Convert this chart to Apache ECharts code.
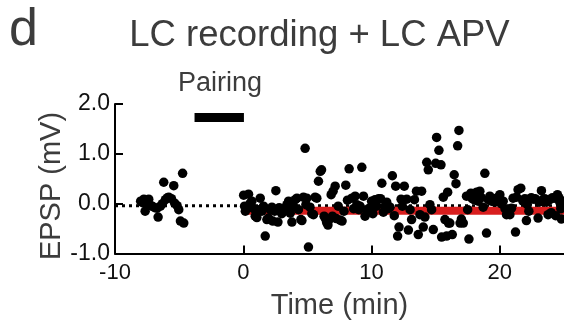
<!DOCTYPE html>
<html>
<head>
<meta charset="utf-8">
<script src="https://cdn.jsdelivr.net/npm/echarts@6/dist/echarts.min.js"></script>
<style>html,body{margin:0;padding:0;background:#fff;}#c{width:564px;height:324px;}</style>
</head>
<body>
<div id="c"></div>
<script>
// ---- data ----
const preTimes  = [-8.0,-7.85,-7.75,-7.65,-7.5,-7.37,-7.2,-7.1,-6.9,-6.72,-6.64,-6.46,-6.3,-6.2,-6.07,-5.9,-5.81,-5.6,-5.42,-5.35,-5.16,-5.03,-4.9,-4.73,-4.64];
const preValues = [0.05,0.02,0.09,-0.15,0.0,0.09,-0.04,-0.05,-0.08,-0.09,-0.27,-0.05,0.0,0.43,0.08,0.12,0.13,0.1,0.36,0.01,-0.04,-0.12,-0.35,0.61,-0.39];

const postTimes = [0.03,0.10,0.16,0.25,0.41,0.54,0.67,0.80,0.93,1.06,1.15,1.32,1.45,1.58,1.71,1.84,1.97,2.10,2.23,2.30,2.45,2.54,2.70,2.80,2.88,3.00,3.15,3.27,3.40,3.53,3.66,3.79,3.90,4.05,4.18,4.30,4.49,4.57,4.69,4.82,4.88,4.95,
5.08,5.20,5.34,5.47,5.60,5.73,5.86,6.00,6.10,6.30,6.40,6.50,6.60,6.70,6.85,6.95,7.00,7.16,7.25,7.40,7.55,7.70,7.85,7.99,8.12,8.25,8.46,8.60,8.72,8.85,9.00,9.10,9.24,9.37,9.49,9.60,9.75,9.88,
10.00,10.10,10.27,10.40,10.55,10.70,10.80,10.92,11.05,11.18,11.30,11.44,11.62,11.77,11.88,12.03,12.14,12.30,12.40,12.55,12.74,12.87,13.00,13.12,13.34,13.50,13.64,13.77,13.90,14.03,14.16,14.30,14.42,14.55,14.68,14.81,
15.00,15.07,15.25,15.41,15.46,15.59,15.72,15.85,15.93,16.00,16.10,16.29,16.44,16.58,16.71,16.81,16.90,17.00,17.15,17.40,17.49,17.59,17.74,17.85,18.00,18.19,18.31,18.44,18.55,18.70,18.83,18.96,19.10,19.22,19.35,19.50,19.61,19.80,
20.00,20.10,20.26,20.40,20.52,20.65,20.78,20.91,21.03,21.22,21.30,21.42,21.63,21.80,21.95,22.07,22.14,22.26,22.45,22.60,22.75,22.98,23.05,23.24,23.35,23.50,23.63,23.76,23.89,24.00,24.10,24.23,24.35,24.49,24.60,24.67,24.75,24.80,24.90];
const postValues = [0.17,-0.05,-0.15,-0.10,0.19,0.01,0.05,-0.10,-0.25,-0.28,-0.12,0.11,-0.15,-0.05,-0.65,-0.32,-0.29,-0.12,-0.07,-0.35,-0.15,0.26,-0.37,-0.08,-0.12,-0.20,-0.15,-0.09,-0.02,0.05,-0.19,-0.37,-0.05,0.08,0.11,-0.12,-0.32,-0.34,0.13,1.11,-0.02,0.11,
-0.87,-0.07,-0.20,-0.22,0.13,0.11,0.45,0.65,0.68,-0.25,-0.30,-0.38,-0.43,-0.32,0.18,-0.25,0.25,0.35,-0.30,-0.05,-0.33,-0.35,-0.15,0.37,0.07,0.70,0.11,-0.10,0.15,-0.02,-0.12,-0.05,0.73,0.15,-0.25,-0.12,-0.15,-0.08,
0.05,-0.20,0.08,-0.05,0.10,0.10,0.41,-0.17,-0.05,0.03,-0.10,-0.07,0.56,-0.24,0.35,-0.65,-0.47,0.09,-0.05,0.35,0.09,-0.53,-0.12,-0.32,0.08,0.25,-0.62,-0.22,0.25,-0.47,-0.27,0.83,0.68,-0.02,-0.12,-0.52,
0.81,1.33,1.07,0.78,-0.67,0.13,-0.32,-0.65,0.23,-0.39,-0.39,-0.62,0.58,0.40,1.16,1.47,-0.39,-0.31,-0.39,0.15,-0.12,-0.71,0.21,0.10,0.08,0.23,0.05,0.25,0.12,-0.07,0.61,-0.59,0.08,0.15,0.05,0.10,0.03,0.12,
0.18,0.00,0.05,-0.10,-0.22,-0.19,-0.22,-0.09,0.11,-0.57,0.13,0.28,0.31,0.05,0.10,-0.34,-0.02,-0.15,0.12,0.09,0.10,-0.29,0.03,0.26,0.08,0.10,0.03,-0.22,0.08,-0.18,0.12,0.11,-0.24,0.18,0.12,0.03,-0.10,-0.31,0.05];

const pairingSpan   = [-3.8, 0.05];  // min
const pairingLevel  = 1.73;          // mV
const baselineLevel = -0.04;         // dotted reference
const meanSpan      = [0, 25];
const meanLevel     = -0.14;         // red mean line
const xTicks = [-10, 0, 10, 20];
const yTicks = [-1, 0, 1, 2];

// ---- chart ----
const FONT = 'Liberation Sans, Arial, Helvetica, sans-serif';
const zip = (a, b) => a.map((v, i) => [v, b[i]]);
const chart = echarts.init(document.getElementById('c'), null, {renderer: 'canvas'});
chart.setOption({
  animation: false,
  backgroundColor: '#fff',
  grid: {left: 115, right: 0, top: 104, bottom: 70.5, containLabel: false},
  xAxis: {
    type: 'value', min: -10, max: 25, interval: 10,
    name: 'Time (min)', nameLocation: 'middle', nameGap: 38,
    nameTextStyle: {fontFamily: FONT, fontSize: 29, color: '#3c3c3c'},
    axisLine: {onZero: false, lineStyle: {color: '#000', width: 2}},
    axisTick: {inside: true, length: 8, lineStyle: {color: '#000', width: 2}, customValues: xTicks},
    axisLabel: {fontFamily: FONT, fontSize: 22, color: '#111', margin: 8, customValues: xTicks},
    splitLine: {show: false}
  },
  yAxis: {
    type: 'value', min: -1, max: 2, interval: 1,
    axisLine: {onZero: false, lineStyle: {color: '#000', width: 2}},
    axisTick: {inside: true, length: 8, lineStyle: {color: '#000', width: 2}, customValues: yTicks},
    axisLabel: {fontFamily: FONT, fontSize: 23, color: '#111', margin: 5, customValues: yTicks,
      formatter: v => v.toFixed(1)},
    splitLine: {show: false}
  },
  series: [
    {type: 'line', data: [[-10, baselineLevel], [25, baselineLevel]], symbol: 'none', silent: true,
      lineStyle: {color: '#000', width: 3, type: [3, 4]}, z: 1},
    {type: 'line', data: [[meanSpan[0], meanLevel], [meanSpan[1], meanLevel]], symbol: 'none', silent: true,
      lineStyle: {color: '#d81e1e', width: 8, cap: 'butt'}, z: 2},
    {type: 'scatter', data: zip(preTimes, preValues), symbolSize: 9.5,
      itemStyle: {color: '#000', opacity: 1}, z: 3},
    {type: 'scatter', data: zip(postTimes, postValues), symbolSize: 9.5,
      itemStyle: {color: '#000', opacity: 1}, z: 3},
    {type: 'line', data: [[pairingSpan[0], pairingLevel], [pairingSpan[1], pairingLevel]], symbol: 'none', silent: true,
      lineStyle: {color: '#000', width: 9, cap: 'butt'}, z: 4}
  ],
  graphic: [
    {type: 'text', left: 9, top: 5, style: {text: 'd', font: '52px ' + FONT, fill: '#3c3c3c'}},
    {type: 'text', x: 319.5, y: 36, style: {text: 'LC recording + LC APV', font: '36.5px ' + FONT, fill: '#3c3c3c', textAlign: 'center', textVerticalAlign: 'middle'}},
    {type: 'text', x: 220, y: 83.5, style: {text: 'Pairing', font: '27px ' + FONT, fill: '#3c3c3c', textAlign: 'center', textVerticalAlign: 'middle'}},
    {type: 'text', x: 52, y: 186, rotation: Math.PI / 2, style: {text: 'EPSP (mV)', font: '29px ' + FONT, fill: '#3c3c3c', textAlign: 'center', textVerticalAlign: 'middle'}}
  ]
});
</script>
</body>
</html>
